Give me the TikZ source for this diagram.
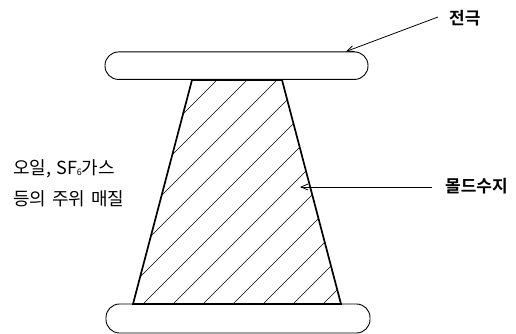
\documentclass[tikz,border=0pt]{standalone}
\usepackage{fontspec}
\newfontfamily\krfont{Noto Sans CJK KR}
\newfontfamily\krbold{Noto Sans CJK KR Bold}
\usetikzlibrary{arrows.meta}
\tikzset{
  electrode/.style={draw,line width=0.9pt,rounded corners=13.5pt,minimum width=263pt,minimum height=27.5pt,inner sep=0pt},
  hatchline/.style={line width=0.55pt},
  body/.style={line width=1.7pt,line join=miter},
  pointer/.style={line width=0.8pt,-{Straight Barb[length=7pt,width=6pt]}},
  label/.style={inner sep=0pt,font=\krbold\fontsize{17}{17}\selectfont,anchor=west},
  note/.style={inner sep=0pt,font=\krfont\fontsize{18}{18}\selectfont,anchor=west}
}
\begin{document}
\begin{tikzpicture}[x=1pt,y=-1pt]
\useasboundingbox (0,0) rectangle (516,334);
\node[electrode] (top) at (236.5,65.7) {};
\node[electrode,minimum width=264pt,minimum height=29pt] (bottom) at (238,318.5) {};
\coordinate (tl) at (192,80);
\coordinate (tr) at (282,80);
\coordinate (br) at (341,304);
\coordinate (bl) at (133,304);
\begin{scope}
  \clip (tl) -- (tr) -- (br) -- (bl) -- cycle;
  \foreach \c in {297,327,...,657} \draw[hatchline] (\c-60,60) -- (\c-320,320);
\end{scope}
\draw[body] (tl) -- (tr) -- (br) -- (bl) -- cycle;
\node[label] (lblE) at (449,18.5) {전극};
\node[label] (lblR) at (445,186.5) {몰드수지};
\coordinate (eTip) at (346,51.5);
\coordinate (eTail) at (438,17);
\coordinate (rTip) at (300,187);
\coordinate (rTail) at (432,187);
\draw[pointer] (eTail) -- (eTip);
\draw[pointer] (rTail) -- (rTip);
\node[note] (n1) at (13,168.5) {오일,\hspace{5pt}SF\raisebox{-1.5pt}{\fontsize{9}{9}\selectfont 6}가스};
\node[note] (n2) at (13,198.5) {등의\hspace{6pt}주위\hspace{6pt}매질};
\end{tikzpicture}
\end{document}
